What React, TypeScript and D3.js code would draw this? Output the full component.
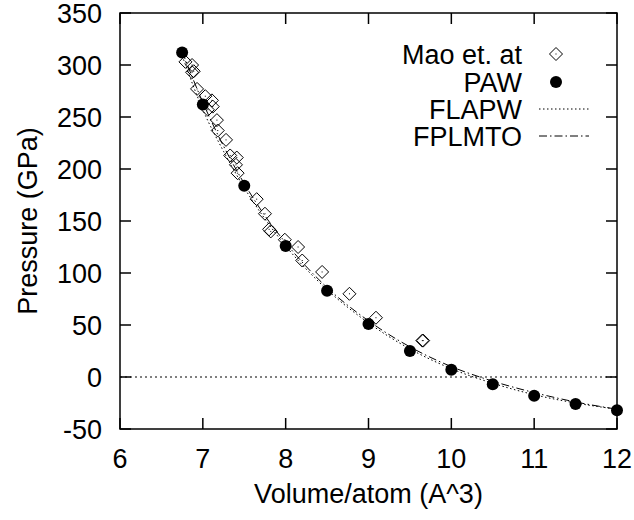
import React, { useEffect, useRef } from "react";
import * as d3 from "d3";

// Mao et al. experimental points [volume, pressure]
const maoVolume = [6.79, 6.87, 6.87, 6.89, 6.93, 7.03, 7.11, 7.06, 7.12, 7.17, 7.18, 7.28, 7.33, 7.41, 7.4, 7.42, 7.65, 7.75, 7.8, 7.82, 7.99, 8.15, 8.2, 8.44, 8.77, 9.09, 9.65, 9.66];
const maoPressure = [303, 300, 293, 294, 277, 270, 266, 257, 260, 247, 237, 228, 213, 211, 204, 196, 171, 157, 142, 140, 132, 125, 112, 101, 80, 57, 35, 35];

// PAW calculation
const pawVolume = [6.75, 7.0, 7.5, 8.0, 8.5, 9.0, 9.5, 10.0, 10.5, 11.0, 11.5, 12.0];
const pawPressure = [312, 262, 184, 126, 83, 51, 25, 7, -7, -18, -26, -32];

// FLAPW fit curve
const flapwVolume = [6.75, 7.0, 7.25, 7.5, 7.75, 8.0, 8.5, 9.0, 9.5, 10.0, 10.5, 11.0, 11.5, 12.0];
const flapwPressure = [309, 257, 217, 182, 152, 126, 84, 52, 27, 8, -6, -17, -25, -31];

// FPLMTO fit curve
const fplmtoVolume = [6.75, 7.0, 7.25, 7.5, 7.75, 8.0, 8.5, 9.0, 9.5, 10.0, 10.5, 11.0, 11.5, 12.0];
const fplmtoPressure = [313, 264, 222, 186, 155, 129, 86, 54, 29, 10, -4, -15, -24, -31];

const xTicks = [6, 7, 8, 9, 10, 11, 12];
const yTicks = [-50, 0, 50, 100, 150, 200, 250, 300, 350];
const legendLabels = ["Mao et. at", "PAW", "FLAPW", "FPLMTO"];

const App = () => {
  const svgRef = useRef<SVGSVGElement>(null);

  useEffect(() => {
    const width = 634;
    const height = 520;
    const margin = { top: 13, right: 17, bottom: 91, left: 120 };
    const font = "'Liberation Sans', Arial, sans-serif";

    const svg = d3.select(svgRef.current);
    svg.selectAll("*").remove();
    svg.attr("width", width).attr("height", height).style("font-family", font);

    const x = d3.scaleLinear().domain([6, 12]).range([margin.left, width - margin.right]);
    const y = d3.scaleLinear().domain([-50, 350]).range([height - margin.bottom, margin.top]);
    const tick = 11;

    // zero axis
    svg
      .append("line")
      .attr("x1", x(6))
      .attr("x2", x(12))
      .attr("y1", y(0))
      .attr("y2", y(0))
      .attr("stroke", "#000")
      .attr("stroke-width", 1)
      .attr("stroke-dasharray", "2,3");

    // curves
    const line = (xs: number[], ys: number[]) =>
      d3
        .line<number>()
        .x((d, i) => x(xs[i]))
        .y((d) => y(d))
        .curve(d3.curveMonotoneX)(ys);

    svg
      .append("path")
      .attr("d", line(flapwVolume, flapwPressure))
      .attr("fill", "none")
      .attr("stroke", "#000")
      .attr("stroke-width", 1)
      .attr("stroke-dasharray", "1.5,2.5");

    svg
      .append("path")
      .attr("d", line(fplmtoVolume, fplmtoPressure))
      .attr("fill", "none")
      .attr("stroke", "#000")
      .attr("stroke-width", 1)
      .attr("stroke-dasharray", "8,3,1.5,3");

    // diamonds
    const diamond = (g: any, cx: number, cy: number) => {
      const r = 6.5;
      g.append("path")
        .attr("d", `M${cx},${cy - r}L${cx + r},${cy}L${cx},${cy + r}L${cx - r},${cy}Z`)
        .attr("fill", "none")
        .attr("stroke", "#000")
        .attr("stroke-width", 1);
      g.append("rect")
        .attr("x", cx - 0.5)
        .attr("y", cy - 0.5)
        .attr("width", 1)
        .attr("height", 1)
        .attr("fill", "#000");
    };

    const mao = svg.append("g");
    maoVolume.forEach((v, i) => diamond(mao, x(v), y(maoPressure[i])));

    svg
      .append("g")
      .selectAll("circle")
      .data(pawVolume)
      .enter()
      .append("circle")
      .attr("cx", (d) => x(d))
      .attr("cy", (d, i) => y(pawPressure[i]))
      .attr("r", 6)
      .attr("fill", "#000");

    // frame and ticks
    const frame = svg.append("g").attr("stroke", "#000").attr("stroke-width", 1.5);
    frame
      .append("rect")
      .attr("x", x(6))
      .attr("y", y(350))
      .attr("width", x(12) - x(6))
      .attr("height", y(-50) - y(350))
      .attr("fill", "none");

    xTicks.forEach((t) => {
      frame.append("line").attr("x1", x(t)).attr("x2", x(t)).attr("y1", y(-50)).attr("y2", y(-50) - tick);
      frame.append("line").attr("x1", x(t)).attr("x2", x(t)).attr("y1", y(350)).attr("y2", y(350) + tick);
    });
    yTicks.forEach((t) => {
      frame.append("line").attr("x1", x(6)).attr("x2", x(6) + tick).attr("y1", y(t)).attr("y2", y(t));
      frame.append("line").attr("x1", x(12)).attr("x2", x(12) - tick).attr("y1", y(t)).attr("y2", y(t));
    });

    const fs = "27px";
    svg
      .append("g")
      .selectAll("text")
      .data(xTicks)
      .enter()
      .append("text")
      .attr("x", (d) => x(d))
      .attr("y", y(-50) + 39)
      .attr("text-anchor", "middle")
      .style("font-size", fs)
      .text((d) => d);

    svg
      .append("g")
      .selectAll("text")
      .data(yTicks)
      .enter()
      .append("text")
      .attr("x", x(6) - 18)
      .attr("y", (d) => y(d) + 9.5)
      .attr("text-anchor", "end")
      .style("font-size", fs)
      .text((d) => d);

    svg
      .append("text")
      .attr("x", (x(6) + x(12)) / 2)
      .attr("y", y(-50) + 74)
      .attr("text-anchor", "middle")
      .style("font-size", fs)
      .text("Volume/atom (A^3)");

    svg
      .append("text")
      .attr("transform", `translate(37, ${(y(-50) + y(350)) / 2}) rotate(-90)`)
      .attr("text-anchor", "middle")
      .style("font-size", fs)
      .text("Pressure (GPa)");

    // legend
    const lx = 522;
    const ly = [54, 82, 109, 136];
    legendLabels.forEach((label, i) => {
      svg
        .append("text")
        .attr("x", lx)
        .attr("y", ly[i] + 9.5)
        .attr("text-anchor", "end")
        .style("font-size", fs)
        .text(label);
    });
    diamond(svg, 556, ly[0]);
    svg.append("circle").attr("cx", 556).attr("cy", ly[1]).attr("r", 6).attr("fill", "#000");
    svg
      .append("line")
      .attr("x1", 539)
      .attr("x2", 589)
      .attr("y1", ly[2])
      .attr("y2", ly[2])
      .attr("stroke", "#000")
      .attr("stroke-dasharray", "1.5,2.5");
    svg
      .append("line")
      .attr("x1", 539)
      .attr("x2", 589)
      .attr("y1", ly[3])
      .attr("y2", ly[3])
      .attr("stroke", "#000")
      .attr("stroke-dasharray", "8,3,1.5,3");
  }, []);

  return <svg ref={svgRef} style={{ position: "absolute", left: 0, top: 0 }}></svg>;
};

export default App;
